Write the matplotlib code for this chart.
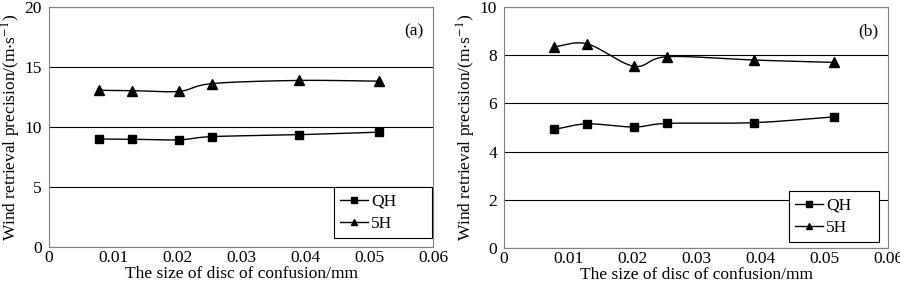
import numpy as np
import matplotlib.pyplot as plt

# Disc of confusion size (mm)
disc = [0.0078, 0.013, 0.0203, 0.0255, 0.039, 0.0515]

# Panel (a)
qh_a = [9.0, 8.98, 8.93, 9.2, 9.36, 9.57]
h5_a = [13.06, 13.03, 12.97, 13.62, 13.88, 13.82]

# Panel (b)
qh_b = [4.92, 5.15, 5.02, 5.17, 5.2, 5.44]
h5_b = [8.35, 8.47, 7.54, 7.94, 7.8, 7.7]

plt.rcParams['font.family'] = ['Liberation Serif', 'DejaVu Serif']
plt.rcParams['mathtext.fontset'] = 'stix'


def smooth(x, y, n=30):
    # Catmull-Rom style curve through the points (like a smoothed spreadsheet line)
    x = np.asarray(x, float)
    y = np.asarray(y, float)
    px = np.concatenate([[2 * x[0] - x[1]], x, [2 * x[-1] - x[-2]]])
    py = np.concatenate([[2 * y[0] - y[1]], y, [2 * y[-1] - y[-2]]])
    xs, ys = [], []
    t = np.linspace(0, 1, n)
    for i in range(1, len(px) - 2):
        for arr, out in ((px, xs), (py, ys)):
            p0, p1, p2, p3 = arr[i - 1], arr[i], arr[i + 1], arr[i + 2]
            out.extend(0.5 * (2 * p1 + (-p0 + p2) * t
                              + (2 * p0 - 5 * p1 + 4 * p2 - p3) * t ** 2
                              + (-p0 + 3 * p1 - 3 * p2 + p3) * t ** 3))
    return np.array(xs), np.array(ys)


fig = plt.figure(figsize=(9, 2.82), dpi=100)
ax1 = fig.add_axes([49 / 900, 1 - 247 / 282, 384 / 900, 240 / 282])
ax2 = fig.add_axes([504 / 900, 1 - 248 / 282, 384 / 900, 241 / 282])

panels = [
    (ax1, qh_a, h5_a, 20, 5, '(a)', (334 / 900, 1 - 238 / 282, 98 / 900, 53 / 282)),
    (ax2, qh_b, h5_b, 10, 2, '(b)', (789 / 900, 1 - 242 / 282, 90 / 900, 52 / 282)),
]

fs = 12.5
for ax, qh, h5, ymax, ystep, tag, lbox in panels:
    for y, mk, ms, lab in ((qh, 's', 5.5, 'QH'), (h5, '^', 6.5, '5H')):
        sx, sy = smooth(disc, y)
        ax.plot(sx, sy, color='black', lw=1.0, zorder=3)
        ax.plot(disc, y, ls='', marker=mk, ms=ms, color='black', zorder=4)
        ax.plot([], [], color='black', lw=1.0, marker=mk, ms=ms * 0.7, label=lab)
    ax.set_xlim(0, 0.06)
    ax.set_ylim(0, ymax)
    ax.set_xticks(np.arange(0, 0.061, 0.01))
    ax.set_xticklabels(['0', '0.01', '0.02', '0.03', '0.04', '0.05', '0.06'])
    ax.set_yticks(np.arange(0, ymax + 0.1, ystep))
    ax.yaxis.grid(True, color='black', lw=0.8)
    ax.set_axisbelow(True)
    ax.tick_params(axis='x', labelsize=fs, length=0, pad=2.5)
    ax.tick_params(axis='y', labelsize=fs, length=0, pad=5)
    for s in ax.spines.values():
        s.set_color('#808080')
        s.set_linewidth(0.8)
    ax.set_xlabel('The size of disc of confusion/mm', fontsize=fs, labelpad=0)
    ax.set_ylabel(r'Wind retrieval precision/(m$\cdot$s$^{-1}$)', fontsize=fs, labelpad=1)
    ax.text(0.975, 0.9, tag, transform=ax.transAxes, ha='right', va='center', fontsize=fs)
    leg = ax.legend(loc='lower left', bbox_to_anchor=lbox, bbox_transform=fig.transFigure,
                    mode='expand', frameon=True, fancybox=False, fontsize=fs,
                    handlelength=1.6, handletextpad=0.2, borderaxespad=0, borderpad=0.35,
                    labelspacing=0.35, alignment='right')
    leg.get_frame().set_edgecolor('black')
    leg.get_frame().set_linewidth(0.8)
    leg.get_frame().set_alpha(1)

fig.savefig('out.png', dpi=100)
